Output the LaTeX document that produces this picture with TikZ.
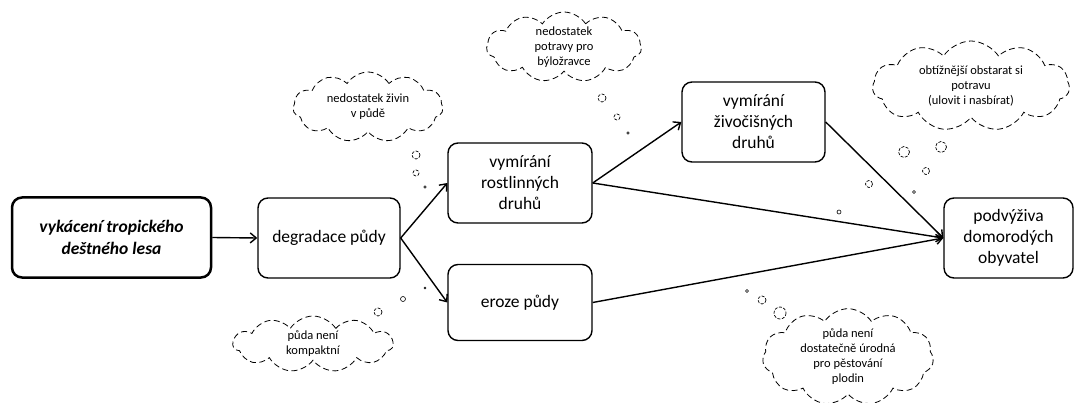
\documentclass[tikz,border=0pt]{standalone}
\usepackage{fontspec}
\setmainfont{Carlito}
\usetikzlibrary{shapes.symbols,arrows.meta}
\begin{document}
\begin{tikzpicture}[x=1pt,y=-1pt,
  box/.style={draw, line width=1.4pt, rounded corners=10pt, align=center,
    font=\fontsize{17.5}{21}\selectfont, inner sep=0pt},
  mainbox/.style={box, line width=2.5pt, font=\fontsize{17.5}{22}\selectfont\bfseries\itshape},
  arr/.style={-{Straight Barb[length=6pt,width=10pt]}, line width=1.4pt},
  thought/.style={cloud, draw, dash pattern=on 6pt off 3.5pt, line width=0.8pt,
    cloud puffs=11, cloud puff arc=115, cloud ignores aspect, align=center,
    font=\fontsize{12.5}{15}\selectfont, inner sep=0pt},
  bub/.style={draw, dash pattern=on 3pt off 1.5pt, line width=0.7pt},
  sbub/.style={draw, line width=0.6pt}]
\useasboundingbox (0,0) rectangle (1075,403);

% boxes
\node[mainbox, minimum width=199pt, minimum height=80pt] (forest) at (111.5,237.5)
  {vykácení tropického\\deštného lesa};
\node[box, minimum width=142pt, minimum height=80pt] (degr) at (329,238) {degradace půdy};
\node[box, minimum width=144pt, minimum height=80pt] (plants) at (520,183)
  {vymírání\\rostlinných\\druhů};
\node[box, minimum width=144pt, minimum height=76pt] (eros) at (520,302.5) {eroze půdy};
\node[box, minimum width=143pt, minimum height=80pt] (animals) at (753.5,122)
  {vymírání\\živočišných\\druhů};
\node[box, minimum width=129pt, minimum height=80pt] (malnut) at (1008.5,238)
  {podvýživa\\domorodých\\obyvatel};

% connectors
\draw[arr] (forest.east) -- (degr.west);
\draw[arr] (degr.east) -- (plants.west);
\draw[arr] (degr.east) -- (eros.west);
\draw[arr] (plants.east) -- (animals.west);
\draw[arr] (plants.east) -- (malnut.west);
\draw[arr] (animals.east) -- (malnut.west);
\draw[arr] (eros.east) -- (malnut.west);

% thought clouds
\node[thought, minimum width=150pt, minimum height=70pt] (c1) at (368,107)
  {nedostatek živin\\v půdě};
\node[thought, minimum width=155pt, minimum height=70pt] (c2) at (564,47)
  {nedostatek\\potravy pro\\býložravce};
\node[thought, minimum width=197pt, minimum height=90pt] (c3) at (971,86)
  {obtížnější obstarat si\\potravu\\(ulovit i nasbírat)};
\node[thought, minimum width=160pt, minimum height=56pt] (c4) at (313,344)
  {půda není\\kompaktní};
\node[thought, minimum width=171pt, minimum height=95pt] (c5) at (848,357)
  {půda není\\dostatečně úrodná\\pro pěstování\\plodin};

% bubbles
\draw[bub] (416,155) circle (4);
\draw[bub] (416,173) circle (3);
\draw[sbub] (425,187) circle (1.3);
\draw[bub] (602,98) circle (4);
\draw[bub] (617,117) circle (3);
\draw[sbub] (628,133) circle (1.3);
\draw[bub] (904,152) circle (5.5);
\draw[bub] (941,147) circle (5.5);
\draw[bub] (926,171) circle (3.5);
\draw[bub] (869,184) circle (3.5);
\draw[sbub] (914,192) circle (1.5);
\draw[sbub] (839,212) circle (2);
\draw[bub] (378,312) circle (4);
\draw[sbub] (403,299) circle (2.5);
\draw[sbub] (425,288) circle (1);
\draw[sbub] (747,291) circle (1.5);
\draw[bub] (762,300) circle (4);
\draw[bub] (780,313) circle (6);
\end{tikzpicture}
\end{document}
